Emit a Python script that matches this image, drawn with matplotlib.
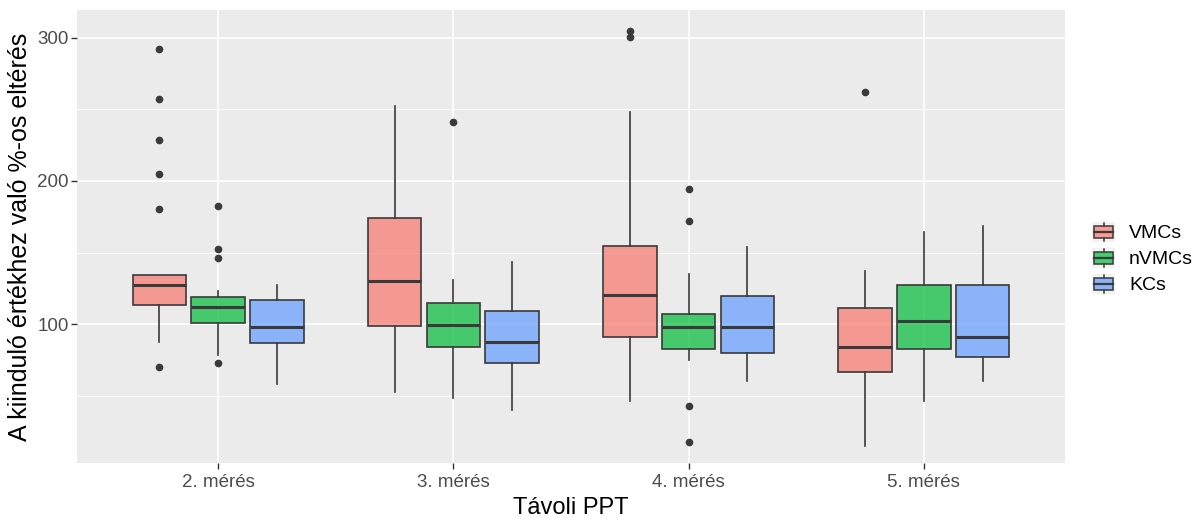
import matplotlib
matplotlib.use("Agg")
import matplotlib.pyplot as plt
from matplotlib.colors import to_rgba
from matplotlib.legend_handler import HandlerBase
from matplotlib.patches import Rectangle
from matplotlib.lines import Line2D

plt.rcParams['font.family'] = ['Liberation Sans', 'DejaVu Sans']

# data (box stats per group)
categories = ["2. mérés", "3. mérés", "4. mérés", "5. mérés"]
groups = ["VMCs", "nVMCs", "KCs"]

med = {
    "VMCs":  [127.2, 130.0, 120.4, 84.4],
    "nVMCs": [111.9, 99.3, 98.3, 102.5],
    "KCs":   [98.3, 87.6, 98.3, 91.0],
}
q1 = {
    "VMCs":  [113.7, 98.6, 91.4, 66.7],
    "nVMCs": [100.7, 84.0, 82.8, 83.0],
    "KCs":   [87.2, 73.2, 79.8, 77.4],
}
q3 = {
    "VMCs":  [134.1, 174.0, 154.6, 111.4],
    "nVMCs": [118.8, 114.6, 107.2, 127.2],
    "KCs":   [117.0, 109.5, 119.8, 127.2],
}
whislo = {
    "VMCs":  [87.7, 53.0, 46.7, 15.0],
    "nVMCs": [78.4, 48.8, 75.1, 46.7],
    "KCs":   [58.3, 40.2, 60.4, 60.2],
}
whishi = {
    "VMCs":  [134.1, 252.3, 248.0, 137.0],
    "nVMCs": [123.2, 130.7, 134.9, 164.4],
    "KCs":   [127.4, 143.5, 154.0, 168.8],
}
fliers = {
    "VMCs":  [[291.9, 257.3, 228.9, 204.7, 180.6, 70.2], [], [304.7, 300.3], [261.9]],
    "nVMCs": [[182.3, 152.8, 146.5, 72.8], [241.0], [194.4, 172.1, 43.2, 17.9], []],
    "KCs":   [[], [], [], []],
}

fills = {"VMCs": "#F8766D", "nVMCs": "#00BA38", "KCs": "#619CFF"}
edge = "#3a3a3a"
alpha = 0.7

fig = plt.figure(figsize=(12.04, 5.25), dpi=100)
ax = fig.add_axes([77/1204, 1 - 463/525, (1065 - 77)/1204, (463 - 10)/525])
ax.set_facecolor("#EBEBEB")

offsets = [-0.25, 0.0, 0.25]
for gi, g in enumerate(groups):
    stats = []
    for ci in range(len(categories)):
        stats.append(dict(med=med[g][ci], q1=q1[g][ci], q3=q3[g][ci],
                          whislo=whislo[g][ci], whishi=whishi[g][ci],
                          fliers=fliers[g][ci]))
    pos = [ci + 1 + offsets[gi] for ci in range(len(categories))]
    ax.bxp(stats, positions=pos, widths=0.228, patch_artist=True,
           showcaps=False, manage_ticks=False,
           boxprops=dict(facecolor=to_rgba(fills[g], alpha), edgecolor=edge, linewidth=1.2),
           medianprops=dict(color=edge, linewidth=2.2),
           whiskerprops=dict(color=edge, linewidth=1.2),
           flierprops=dict(marker='o', markersize=4.5, markerfacecolor=edge,
                           markeredgecolor=edge, linestyle='none'))

ax.set_xlim(0.4, 4.6)
ax.set_ylim(3.2, 319.3)
ax.set_xticks(range(1, 5))
ax.set_xticklabels(categories)
ax.set_yticks([100, 200, 300])
ax.set_yticks([50, 150, 250], minor=True)
ax.grid(which='major', color='white', linewidth=1.2)
ax.grid(which='minor', axis='y', color='white', linewidth=0.6)
ax.set_axisbelow(True)
for s in ax.spines.values():
    s.set_visible(False)
ax.tick_params(which='major', length=4, color='#333333', labelcolor='#4D4D4D',
               labelsize=13.5, width=1)
ax.tick_params(which='minor', length=0)
ax.tick_params(axis='x', pad=4)
ax.tick_params(axis='y', pad=2)

ax.set_xlabel("Távoli PPT", fontsize=17, labelpad=4)
ax.set_ylabel("A kiinduló értékhez való %-os eltérés", fontsize=18, labelpad=4)


class BoxHandler(HandlerBase):
    def create_artists(self, legend, orig_handle, xdescent, ydescent,
                       width, height, fontsize, trans):
        x0, y0 = -xdescent, -ydescent
        bg = Rectangle((x0, y0), width, height, facecolor="#F2F2F2",
                       edgecolor='none', transform=trans)
        cx = x0 + width / 2
        box = Rectangle((x0 + width * 0.1, y0 + height * 0.2), width * 0.8,
                        height * 0.6, facecolor=orig_handle.get_facecolor(),
                        edgecolor=edge, linewidth=1.1, transform=trans)
        w1 = Line2D([cx, cx], [y0 + height * 0.05, y0 + height * 0.2],
                    color=edge, linewidth=1.1, transform=trans)
        w2 = Line2D([cx, cx], [y0 + height * 0.8, y0 + height * 0.95],
                    color=edge, linewidth=1.1, transform=trans)
        m = Line2D([x0 + width * 0.1, x0 + width * 0.9],
                   [y0 + height * 0.5, y0 + height * 0.5],
                   color=edge, linewidth=1.6, transform=trans)
        return [bg, box, w1, w2, m]


handles = [Rectangle((0, 0), 1, 1, facecolor=to_rgba(fills[g], alpha)) for g in groups]
leg = fig.legend(handles, groups, handler_map={Rectangle: BoxHandler()},
                 loc='center left', bbox_to_anchor=(1090/1204, 1 - 258/525),
                 frameon=False, fontsize=14, handlelength=1.2, handleheight=1.2,
                 labelspacing=0.28, handletextpad=0.7, borderpad=0.1,
                 borderaxespad=0)

fig.savefig("out.png", dpi=100)
